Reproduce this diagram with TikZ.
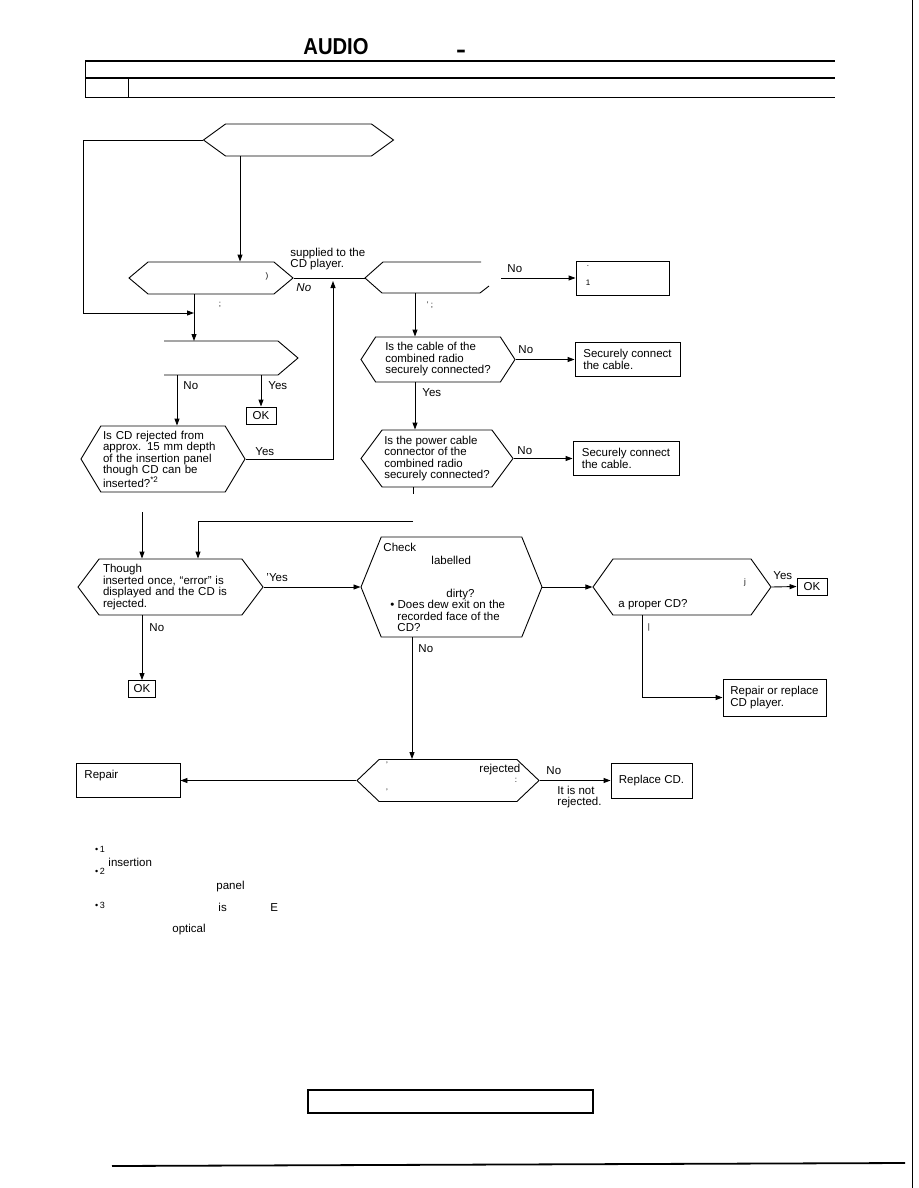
\documentclass[tikz,border=0pt]{standalone}
\usepackage{fontspec}
\setmainfont{Liberation Sans}
\usetikzlibrary{arrows.meta,shapes.symbols,calc}

\begin{document}
\begin{tikzpicture}[x=1pt,y=-1pt,line width=0.9pt,
  font=\fontsize{11.5}{11.5}\selectfont,
  query/.style={draw,signal,signal to=east and west,inner sep=0pt,align=left},
  actbox/.style={draw,rectangle,inner sep=0pt,align=left},
  okbox/.style={draw,rectangle,inner sep=0pt,minimum width=30pt,minimum height=17pt},
  lbl/.style={inner sep=0pt,anchor=base west},
  frag/.style={inner sep=0pt,font=\fontsize{8}{8}\selectfont},
  flow/.style={-{Triangle[length=7pt,width=5pt]}}]
\useasboundingbox (0,0) rectangle (918,1188);
% header
\node[font=\fontsize{23}{23}\selectfont\bfseries] (title) at (336,47) {\scalebox{0.88}[1]{AUDIO}};
\node[font=\fontsize{23}{23}\selectfont\bfseries] (dash) at (461,54) {\scalebox{1.3}[1]{-}};
\draw[line width=2pt] (85,61) -- (835,61);
\draw[line width=2pt] (85,78) -- (835,78);
\draw (85,97) -- (835,97);
\draw (85,61) -- (85,97);
\draw (128,78) -- (128,97);

% queries
\node[query,minimum width=190pt,minimum height=32pt,signal pointer angle=72] (qstart) at (298.5,140) {};
\node[query,minimum width=164pt,minimum height=32pt,signal pointer angle=80] (qdisp) at (211,278) {};
\node[query,minimum width=154pt,minimum height=45pt,signal pointer angle=114] (qcable) at (438,359.5)
  {Is the cable of the\\combined radio\\securely connected?};
\node[query,minimum width=152pt,minimum height=57pt,signal pointer angle=107] (qpower) at (437,458.5)
  {Is the power cable\\connector of the\\combined radio\\securely connected?};
\node[query,minimum width=164pt,minimum height=66pt,signal pointer angle=118,text width=120pt] (qreject) at (163,459)
  {Is CD rejected from\\approx. 15 mm depth\\of the insertion panel\\though CD can be\\inserted?\textsuperscript{*2}};
\node[query,minimum width=185pt,minimum height=56pt,signal pointer angle=106,text width=135pt] (qerror) at (170.5,587)
  {Though\\inserted once, ``error'' is\\displayed and the CD is\\rejected.};
\node[query,minimum width=181pt,minimum height=100pt,signal pointer angle=136] (qdirty) at (451.5,587) {};
\node[query,minimum width=178pt,minimum height=56pt,signal pointer angle=109] (qproper) at (682,587) {};
\node[query,minimum width=182pt,minimum height=42pt,signal pointer angle=87] (qretry) at (448,780.5) {};

% partly printed queries
\coordinate (h3w) at (365,278);
\coordinate (h3s) at (415,293);
\coordinate (h3e) at (501,278);
\draw (481,262) -- (383,262) -- (h3w) -- (382,293) -- (480,293) -- (489,286);
\coordinate (h5a) at (194,341);
\coordinate (h5n) at (177,375);
\coordinate (h5y) at (261,375);
\draw (164,341) -- (278,341) -- (298,358) -- (278,375) -- (164,375);

% boxes
\node[actbox,minimum width=93pt,minimum height=34pt] (nosupply) at (622.5,278) {};
\node[actbox,minimum width=105pt,minimum height=34pt] (cableA) at (627.5,359.5) {Securely connect\\the cable.};
\node[actbox,minimum width=106pt,minimum height=34pt] (cableB) at (626,458.5) {Securely connect\\the cable.};
\node[actbox,minimum width=103pt,minimum height=37pt] (player) at (774.5,697.5) {Repair or replace\\CD player.};
\node[actbox,minimum width=104pt,minimum height=34pt] (repair) at (128,780.5) {};
\node[actbox,minimum width=81pt,minimum height=35pt] (replace) at (651.5,780.5) {Replace CD.};
\node[okbox] (okA) at (261,415.5) {OK};
\node[okbox,minimum width=27pt] (okB) at (142,689) {OK};
\node[okbox] (okC) at (812,586.5) {OK};

% connectors
\coordinate (loopL) at (83,313);
\coordinate (j1) at (194,313);
\coordinate (c240) at (240,0);
\draw[flow] (qstart.south -| c240) -- (qdisp.north -| c240);
\draw[flow] (qstart.west) -| (loopL) -- (j1);
\draw[flow] (qdisp.south -| j1) -- (h5a);
\draw (qdisp.east) -- (h3w);
\draw[flow] (h3s) -- (qcable.north -| h3s);
\draw[flow] (h3e) -- (nosupply.west);
\coordinate (upT) at (333,281);
\draw[flow] (qreject.east) -| (upT);
\draw[flow] (qcable.east) -- (cableA.west);
\draw[flow] (qcable.south -| h3s) -- (qpower.north -| h3s);
\draw[flow] (qpower.east) -- (cableB.west);
\coordinate (tick) at (413,494);
\draw (qpower.south -| tick) -- (tick);
\draw[flow] (h5n) -- (qreject.north -| h5n);
\draw[flow] (h5y) -- (okA.north);
\coordinate (f1) at (142,512);
\coordinate (f2) at (413,521);
\coordinate (f3) at (198,521);
\draw[flow] (f1) -- (qerror.north -| f1);
\draw[flow] (f2) -- (f3) -- (qerror.north -| f3);
\draw[flow] (qerror.east) -- (qdirty.west);
\draw[flow] (qerror.south -| f1) -- (okB.north);
\draw[flow] (qdirty.east) -- (qproper.west);
\draw[flow] (qproper.east) -- (okC.west);
\coordinate (c642) at (642,0);
\draw[flow] (qproper.south -| c642) |- (player.west);
\coordinate (c412) at (412,0);
\draw[flow] (qdirty.south -| c412) -- (qretry.north -| c412);
\draw[flow] (qretry.west) -- (repair.east);
\draw[flow] (qretry.east) -- (replace.west);

% labels
\node[lbl] (noA) at (296,291) {\itshape No};
\node[inner sep=0pt,anchor=north west,align=left] (suppl) at (290,247.5) {supplied to the\\CD player.};
\node[lbl] (noB) at (507,272) {No};
\node[lbl] (noC) at (518,353) {No};
\node[lbl] (yesC) at (422,396) {Yes};
\node[lbl] (noD) at (517,454) {No};
\node[lbl] (noE) at (183,389) {No};
\node[lbl] (yesE) at (268,389) {Yes};
\node[lbl] (yesF) at (255,455) {Yes};
\node[lbl] (yesG) at (266,581) {'Yes};
\node[lbl] (noG) at (149,631) {No};
\node[lbl] (noH) at (418,652) {No};
\node[lbl] (yesJ) at (773,579) {Yes};
\node[lbl] (noK) at (546,774) {No};
\node[inner sep=0pt,anchor=north west,align=left] (notrej) at (557,785.5) {It is not\\rejected.};

% text in the big queries
\node[lbl] (chk) at (383,551) {Check};
\node[lbl] (lab) at (431,564) {labelled};
\node[lbl] (dty) at (446,597) {dirty?};
\node[lbl] (dew) at (390,608) {\textbullet\ Does dew exit on the};
\node[lbl] (rec) at (397,620) {recorded face of the};
\node[lbl] (cdq) at (397,631) {CD?};
\node[lbl] (prop) at (618,607) {a proper CD?};
\node[lbl] (rej) at (479,772) {rejected};
\node[lbl] (rep) at (84,778) {Repair};

% faint leftovers of the print
\node[frag] (fa) at (267,276) {)};
\node[frag] (fb) at (220,305) {;};
\node[frag] (fc) at (430,305) {'\ ;};
\node[frag] (fd) at (588,266) {.};
\node[frag] (fe) at (588,283) {1};
\node[frag] (ff) at (745,582) {j};
\node[frag] (fg) at (649,627) {|};
\node[frag] (fh) at (387,765) {'};
\node[frag] (fi) at (387,792) {'};
\node[frag] (fj) at (516,780) {:};

% notes
\foreach \k/\y in {1/849,2/871,3/905}
  \node[inner sep=0pt,font=\fontsize{9}{9}\selectfont] (mark\k) at (100,\y) {\textbullet\,\k};
\node[lbl] (nins) at (108,866) {insertion};
\node[lbl] (npan) at (216,889) {panel};
\node[lbl] (nis) at (218,911) {is};
\node[lbl] (nE) at (270,911) {E};
\node[lbl] (nopt) at (172,932) {optical};

% foot
\draw[line width=1.2pt] (308,1090) rectangle (593,1113);
\draw[line width=1.8pt] (112,1166) -- (905,1163);
\draw (912,0) -- (912,1188);
\end{tikzpicture}
\end{document}
